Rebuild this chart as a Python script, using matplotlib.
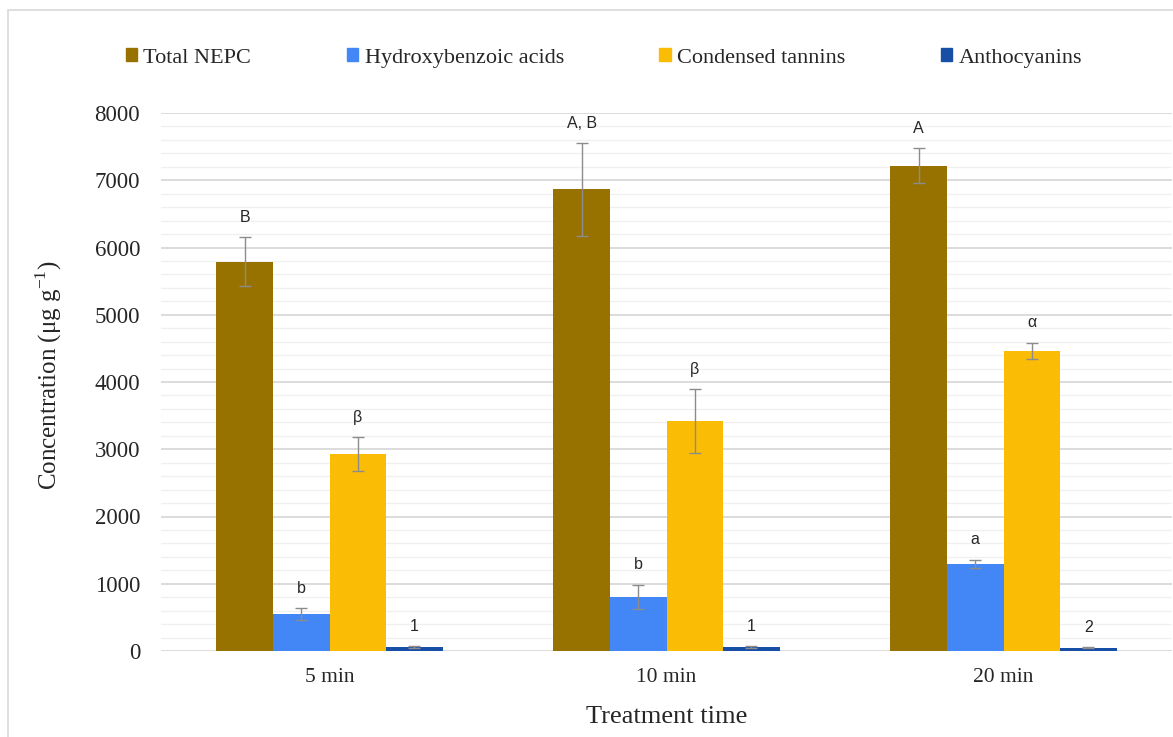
import matplotlib
matplotlib.use("Agg")
import matplotlib.pyplot as plt
from matplotlib.patches import Patch, Rectangle
from matplotlib.ticker import MultipleLocator
import numpy as np

categories = ["5 min", "10 min", "20 min"]
series = ["Total NEPC", "Hydroxybenzoic acids", "Condensed tannins", "Anthocyanins"]
total_nepc = [5790, 6865, 7217]
total_nepc_err = [365, 690, 260]
hydroxybenzoic = [550, 803, 1294]
hydroxybenzoic_err = [90, 185, 65]
tannins = [2929, 3420, 4465]
tannins_err = [252, 475, 120]
anthocyanins = [60, 60, 50]
anthocyanins_err = [8, 8, 8]
letters_nepc = ["B", "A, B", "A"]
letters_hba = ["b", "b", "a"]
letters_tan = ["β", "β", "α"]
letters_ant = ["1", "1", "2"]

colors = ["#987200", "#4287f5", "#fbbc05", "#174ea6"]
values = [total_nepc, hydroxybenzoic, tannins, anthocyanins]
errors = [total_nepc_err, hydroxybenzoic_err, tannins_err, anthocyanins_err]
letters = [letters_nepc, letters_hba, letters_tan, letters_ant]

W, H = 1173, 737
fig = plt.figure(figsize=(W / 100, H / 100), dpi=100)
ax = fig.add_axes([161 / W, 1 - 651 / H, (1172 - 161) / W, (651 - 113) / H])

serif = "Liberation Serif"
sans = "Liberation Sans"

x = np.arange(len(categories))
bw = 0.1677
for i, (vals, errs, col, labs) in enumerate(zip(values, errors, colors, letters)):
    pos = x + (i - 1.5) * bw
    ax.bar(pos, vals, width=bw, color=col, zorder=3, label=series[i])
    ax.errorbar(pos, vals, yerr=errs, fmt="none", ecolor="#8c8c8c", elinewidth=1,
                capsize=4, capthick=1, zorder=4)
    for p, v, e, t in zip(pos, vals, errs, labs):
        ax.annotate(t, (p, v + e), xytext=(0, 11), textcoords="offset points",
                    ha="center", va="baseline", fontsize=11.5, family=sans,
                    color="#262626")

ax.set_xlim(-0.5, 2.5)
ax.set_ylim(0, 8000)
ax.yaxis.set_major_locator(MultipleLocator(1000))
ax.yaxis.set_minor_locator(MultipleLocator(200))
ax.grid(axis="y", which="major", color="#d9d9d9", linewidth=1.3, zorder=0)
ax.grid(axis="y", which="minor", color="#f0f0f0", linewidth=1.0, zorder=0)
ax.set_xticks(x)
ax.set_xticklabels(categories, family=serif, fontsize=15.5)
for lab in ax.get_yticklabels():
    lab.set_family(serif)
    lab.set_fontsize(16.5)
ax.tick_params(axis="both", which="both", length=0, colors="#262626")
ax.tick_params(axis="x", pad=12)
ax.tick_params(axis="y", pad=15)
for s in ax.spines.values():
    s.set_visible(False)
ax.set_axisbelow(True)

ax.set_xlabel("Treatment time", family=serif, fontsize=19, color="#262626", labelpad=14)
ax.set_ylabel(r"Concentration (μg g$^{\mathregular{-1}}$)", family=serif, fontsize=18,
              color="#262626", labelpad=22)
ax.yaxis.label.set_y(0.513)

handles = [Patch(facecolor=c, edgecolor=c) for c in colors]
fig.legend(handles=handles, labels=series, loc="center", ncol=4,
           bbox_to_anchor=((125 + 1083) / 2 / W, 1 - 58 / H), frameon=False,
           prop={"family": serif, "size": 16}, handlelength=0.5,
           handleheight=0.5, handletextpad=0.3, columnspacing=4.3,
           borderpad=0, borderaxespad=0, labelcolor="#262626")

fig.add_artist(Rectangle((8 / W, -0.05), 1.2, 1 - 10 / H + 0.05, transform=fig.transFigure,
                         fill=False, edgecolor="#d9d9d9", linewidth=1.2))

fig.savefig("out.png", dpi=100, facecolor="white")
